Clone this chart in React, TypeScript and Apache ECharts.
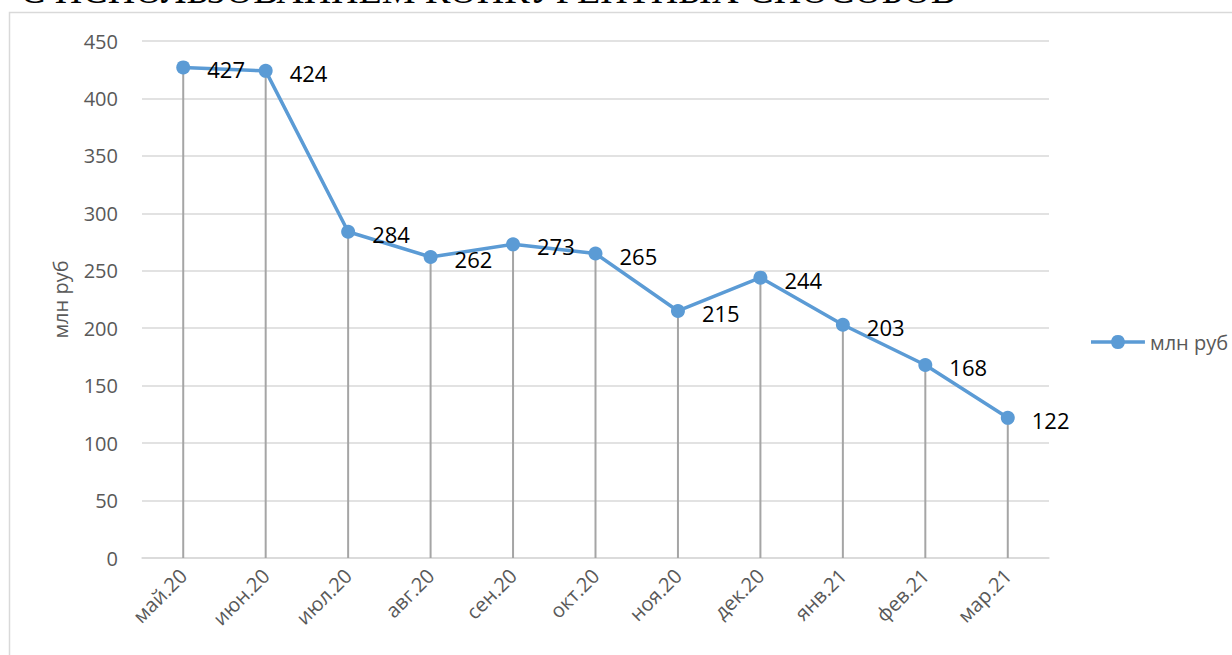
import React, { useEffect, useRef } from "react";
import * as echarts from "echarts";

const categories = ["май.20", "июн.20", "июл.20", "авг.20", "сен.20", "окт.20", "ноя.20", "дек.20", "янв.21", "фев.21", "мар.21"];
const values = [427, 424, 284, 262, 273, 265, 215, 244, 203, 168, 122];
const seriesName = "млн руб";
const yAxisName = "млн руб";
const titleText = "С ИСПОЛЬЗОВАНИЕМ КОНКУРЕНТНЫХ СПОСОБОВ";

const FONT = "'Open Sans', 'Liberation Sans', sans-serif";
const LEGEND_ICON =
  "path://M0,5.25 H20.22 A7,7 0 0 1 33.78,5.25 H54 V8.75 H33.78 A7,7 0 0 1 20.22,8.75 H0 Z";

export default function App() {
  const ref = useRef<HTMLDivElement>(null);
  useEffect(() => {
    document.body.style.margin = "0";
    const chart = echarts.init(ref.current!, null, { renderer: "svg" });
    chart.setOption({
      animation: false,
      backgroundColor: "#ffffff",
      textStyle: { fontFamily: FONT },
      graphic: [
        {
          type: "rect",
          shape: { x: 9.5, y: 12.5, width: 1400, height: 800 },
          style: { fill: "none", stroke: "#d9d9d9", lineWidth: 1.5 },
          silent: true,
          z: -1,
        },
        {
          type: "text",
          x: 20,
          y: -10,
          style: {
            text: titleText,
            font: "38px 'Liberation Serif', 'Times New Roman', serif",
            fill: "#000000",
            verticalAlign: "middle",
            align: "left",
          },
          silent: true,
        },
      ],
      legend: {
        data: [{ name: seriesName, icon: LEGEND_ICON }],
        left: 1086,
        top: 327,
        itemWidth: 54,
        itemHeight: 14,
        itemGap: 6,
        itemStyle: { color: "#5b9bd5", borderWidth: 0 },
        textStyle: { fontSize: 20, color: "#595959", fontFamily: FONT },
      },
      grid: { left: 142, right: 183, top: 41, bottom: 97, containLabel: false },
      xAxis: {
        type: "category",
        data: categories,
        boundaryGap: true,
        axisLine: { lineStyle: { color: "#d9d9d9", width: 1.5 } },
        axisTick: { show: false },
        axisLabel: { rotate: 45, fontSize: 20, color: "#595959", margin: 14, fontFamily: FONT },
        splitLine: { show: false },
      },
      yAxis: {
        type: "value",
        min: 0,
        max: 450,
        interval: 50,
        name: yAxisName,
        nameLocation: "middle",
        nameGap: 72,
        nameTextStyle: { fontSize: 20, color: "#595959", fontFamily: FONT },
        axisLine: { show: false },
        axisTick: { show: false },
        axisLabel: { fontSize: 20, color: "#595959", margin: 24, fontFamily: FONT },
        splitLine: { lineStyle: { color: "#d9d9d9", width: 1.5 } },
      },
      series: [
        {
          name: "drop",
          type: "bar",
          data: values,
          barWidth: 2,
          itemStyle: { color: "#a5a5a5" },
          silent: true,
          z: 1,
        },
        {
          name: seriesName,
          type: "line",
          data: values,
          symbol: "circle",
          symbolSize: 14,
          lineStyle: { color: "#5b9bd5", width: 3.5 },
          itemStyle: { color: "#5b9bd5" },
          z: 3,
          label: {
            show: true,
            position: "right",
            distance: 17,
            fontSize: 22,
            color: "#000000",
            fontFamily: FONT,
            offset: [0, 2],
          },
        },
      ],
    });
    return () => chart.dispose();
  }, []);
  return <div ref={ref} style={{ position: "fixed", left: 0, top: 0, width: 1232, height: 655 }} />;
}
